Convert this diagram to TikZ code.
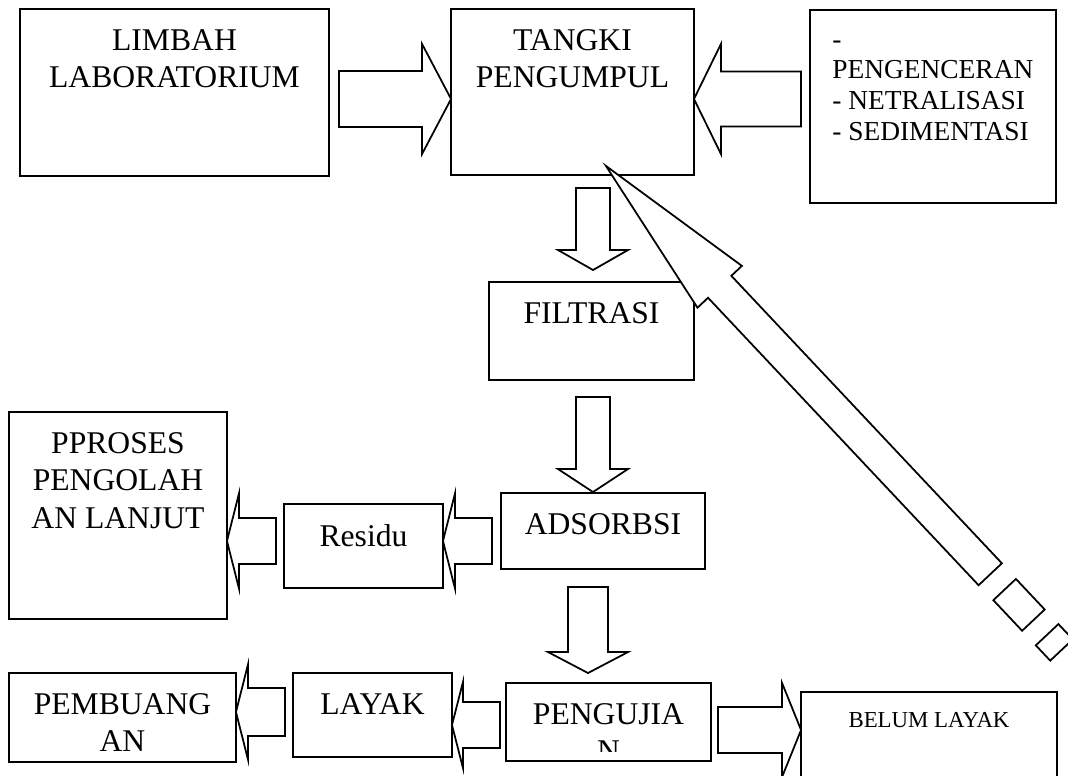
\documentclass[tikz,border=0pt]{standalone}
\usepackage{fontspec}
\setmainfont{Liberation Serif}
\usetikzlibrary{calc}
\newcommand{\bigfont}{\fontsize{18}{21.3}\selectfont}
\newcommand{\midfont}{\fontsize{15.6}{17.4}\selectfont}
\newcommand{\smallfont}{\fontsize{13}{15}\selectfont}

% angle and length (px) of an arrow from #1 to #2
\newcommand{\arrowframe}[2]{%
  \path let \p1=(#1), \p2=(#2) in
    \pgfextra{\pgfmathsetmacro\arrang{atan2((\y2-\y1)/100,(\x2-\x1)/100)}%
      \pgfmathsetmacro\arrlen{veclen((\x2-\x1)/100,(\y2-\y1)/100)*100/0.569055}%
      \global\let\arrang\arrang\global\let\arrlen\arrlen};}
% block arrow: tail, tip, shaft half width, head half width, head length
\newcommand{\blockarrow}[5]{%
  \arrowframe{#1}{#2}
  \begin{scope}[shift={(#1)}, rotate=\arrang]
    \draw[fat] (0,-#3) -- ({\arrlen-#5},-#3) -- ({\arrlen-#5},-#4) -- (\arrlen,0)
      -- ({\arrlen-#5},#4) -- ({\arrlen-#5},#3) -- (0,#3) -- cycle;
  \end{scope}}

\begin{document}
\begin{tikzpicture}[x=0.02cm, y=-0.02cm,
  box/.style={draw, line width=1pt, fill=white, inner sep=0pt, outer sep=0pt},
  txt/.style={font=\bigfont, align=center, inner sep=0pt, anchor=north, yshift=-11.4pt},
  fat/.style={draw, line width=1pt, fill=white, line join=miter},
]
\clip (0,0) rectangle (1068,776);
\fill[white] (0,0) rectangle (1068,776);

% top row
\node[box, minimum width=6.18cm, minimum height=3.34cm,
      label={[txt]north:{LIMBAH\\LABORATORIUM}}] (limbah) at (174.5,92.5) {};
\node[box, minimum width=4.86cm, minimum height=3.32cm,
      label={[txt]north:{TANGKI\\PENGUMPUL}}] (tangki) at (572.5,92) {};
\node[box, minimum width=4.92cm, minimum height=3.86cm,
      label={[txt, font=\midfont, align=left, anchor=north west, xshift=12.5pt]north west:{\vphantom{P}-\\PENGENCERAN\\- NETRALISASI\\- SEDIMENTASI}}] (proses) at (933,106.5) {};

% middle column
\node[box, minimum width=4.1cm, minimum height=1.96cm,
      label={[txt]north:FILTRASI}] (filtrasi) at (591.5,331) {};
\node[box, minimum width=4.08cm, minimum height=1.52cm,
      label={[txt]north:ADSORBSI}] (adsorbsi) at (603,531) {};
\node[box, minimum width=3.18cm, minimum height=1.68cm,
      label={[txt]north:Residu}] (residu) at (363.5,546) {};
\node[box, minimum width=4.36cm, minimum height=4.14cm,
      label={[txt]north:{PPROSES\\PENGOLAH\\AN LANJUT}}] (lanjut) at (118,515.5) {};

% bottom row
\node[box, minimum width=4.1cm, minimum height=1.56cm] (pengujian) at (608.5,722) {};
\begin{scope}
  \clip (pengujian.north west) rectangle ($(pengujian.south east)+(0,-9)$);
  \node[txt] (pengujiantxt) at (pengujian.north) {PENGUJIA\\N};
\end{scope}
\node[box, minimum width=3.18cm, minimum height=1.68cm,
      label={[txt]north:LAYAK}] (layak) at (372.5,715) {};
\node[box, minimum width=4.54cm, minimum height=1.78cm,
      label={[txt]north:{PEMBUANG\\AN}}] (pembuangan) at (122.5,717.5) {};
\node[box, minimum width=5.12cm, minimum height=2.16cm,
      label={[txt, font=\smallfont]north:{BELUM LAYAK}}] (belum) at (929,746) {};

% block arrows
\blockarrow{$(limbah.east)+(10,6.5)$}{$(tangki.west)+(0,7)$}{28}{55}{29}
\blockarrow{$(proses.west)+(-9,-7.5)$}{$(tangki.east)+(0,7)$}{27.5}{55}{27}
\blockarrow{$(tangki.south)+(20.5,13)$}{$(filtrasi.north)+(1.5,-12)$}{17}{35}{20}
\blockarrow{$(filtrasi.south)+(1.5,17)$}{$(adsorbsi.north)+(-10,-1)$}{17}{35}{23}
\blockarrow{$(adsorbsi.south)+(-15,18)$}{$(pengujian.north)+(-20.5,-10)$}{20}{40}{21}
\blockarrow{$(adsorbsi.west)+(-9,10)$}{$(residu.east)+(0,-5)$}{23}{47.5}{12}
\blockarrow{$(residu.west)+(-8,-5)$}{$(lanjut.east)+(0,25.5)$}{23}{47.5}{12}
\blockarrow{$(pengujian.east)+(7,8)$}{$(belum.west)+(0,-16)$}{23}{47}{19}
\blockarrow{$(pengujian.west)+(-6,3)$}{$(layak.east)+(0,10)$}{23}{43}{11}
\blockarrow{$(layak.west)+(-8,-3)$}{$(pembuangan.east)+(0,-5.5)$}{24}{47.5}{12}

% striped arrow back to the tank
\coordinate (feed) at (1061.5,650);
\coordinate (feedtip) at ($(tangki.south)+(33.5,-9)$);
\arrowframe{feed}{feedtip}
\begin{scope}[shift={(feed)}, rotate=\arrang]
  \draw[fat] (0,-15.5) rectangle (21,15.5);
  \draw[fat] (41,-15.5) rectangle (83,15.5);
  \draw[fat] (104,-16) -- ({\arrlen-166},-16) -- ({\arrlen-166},-30.5) -- (\arrlen,0)
    -- ({\arrlen-166},30.5) -- ({\arrlen-166},16) -- (104,16) -- cycle;
\end{scope}
\end{tikzpicture}
\end{document}
